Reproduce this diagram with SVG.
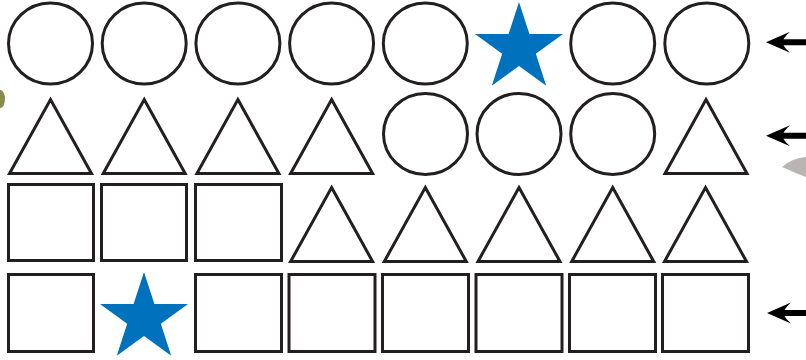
<svg xmlns="http://www.w3.org/2000/svg" xmlns:xlink="http://www.w3.org/1999/xlink" width="806" height="360" viewBox="0 0 806 360">
<style>
.o{fill:#fff;stroke:#231f20;stroke-width:3;stroke-linejoin:miter}
.star{fill:#0071bc}
.arr{fill:#000}
</style>
<defs>
<path id="star" class="star" d="M0,-46.3 L10.4,-14.32 L44.03,-14.31 L16.83,5.47 L27.21,37.46 L0,17.7 L-27.21,37.46 L-16.83,5.47 L-44.03,-14.31 L-10.4,-14.32 Z"/>
<ellipse id="circ" class="o" cx="0" cy="0" rx="42" ry="40.5"/>
<path id="tri" class="o" d="M0,-37 L41,37 L-41,37 Z"/>
<path id="arrow" class="arr" d="M0,0 L24,-10.5 Q19,-6 17.5,-3 L40,-3 L40,3 L17.5,3 Q19,6 24,10.5 Z"/>
</defs>
<rect width="806" height="360" fill="#fff"/>
<!-- stray marks -->
<ellipse cx="0.5" cy="99" rx="4.5" ry="9" fill="#76762e" opacity="0.85"/>
<path d="M782,167 Q792,158 806,157 L806,177 Q795,173 782,167 Z" fill="#a8a2a0" opacity="0.8"/>
<!-- row 1 -->
<g id="r1c1"><use href="#circ" x="50.5" y="43.5"/></g>
<g id="r1c2"><use href="#circ" x="144.2" y="43.5"/></g>
<g id="r1c3"><use href="#circ" x="237.9" y="43.5"/></g>
<g id="r1c4"><use href="#circ" x="331.6" y="43.5"/></g>
<g id="r1c5"><use href="#circ" x="425.3" y="43.5"/></g>
<g id="r1c6"><use href="#star" x="519" y="48.3"/></g>
<g id="r1c7"><use href="#circ" x="612.7" y="43.5"/></g>
<g id="r1c8"><use href="#circ" x="706.8" y="43.5"/></g>
<!-- row 2 -->
<g id="r2c1"><use href="#tri" x="50.5" y="136.5"/></g>
<g id="r2c2"><use href="#tri" x="144.2" y="136.5"/></g>
<g id="r2c3"><use href="#tri" x="237.9" y="136.5"/></g>
<g id="r2c4"><use href="#tri" x="331.6" y="136.5"/></g>
<g id="r2c5"><use href="#circ" x="425.5" y="134"/></g>
<g id="r2c6"><use href="#circ" x="519" y="134"/></g>
<g id="r2c7"><use href="#circ" x="612.7" y="134"/></g>
<g id="r2c8"><use href="#tri" x="706" y="136.5"/></g>
<!-- row 3 -->
<g id="r3c1"><rect class="o" x="8.5" y="184.5" width="85" height="76"/></g>
<g id="r3c2"><rect class="o" x="101.5" y="184.5" width="85" height="76"/></g>
<g id="r3c3"><rect class="o" x="195.5" y="184.5" width="86" height="76"/></g>
<g id="r3c4"><use href="#tri" x="331.6" y="224.5"/></g>
<g id="r3c5"><use href="#tri" x="425.3" y="224.5"/></g>
<g id="r3c6"><use href="#tri" x="519" y="224.5"/></g>
<g id="r3c7"><use href="#tri" x="612.7" y="224.5"/></g>
<g id="r3c8"><use href="#tri" x="705.5" y="224.5"/></g>
<!-- row 4 -->
<g id="r4c1"><rect class="o" x="8.5" y="274.5" width="85" height="77"/></g>
<g id="r4c2"><use href="#star" x="144" y="318.3"/></g>
<g id="r4c3"><rect class="o" x="195.5" y="274.5" width="86" height="77"/></g>
<g id="r4c4"><rect class="o" x="289" y="274.5" width="86" height="77"/></g>
<g id="r4c5"><rect class="o" x="382.5" y="274.5" width="86" height="77"/></g>
<g id="r4c6"><rect class="o" x="476" y="274.5" width="86" height="77"/></g>
<g id="r4c7"><rect class="o" x="569.5" y="274.5" width="86" height="77"/></g>
<g id="r4c8"><rect class="o" x="662.5" y="274.5" width="86" height="77"/></g>
<!-- arrows -->
<g id="connectors">
<use href="#arrow" x="766" y="42.3"/>
<use href="#arrow" x="766" y="135.7"/>
<use href="#arrow" x="767" y="313"/>
</g>
</svg>
